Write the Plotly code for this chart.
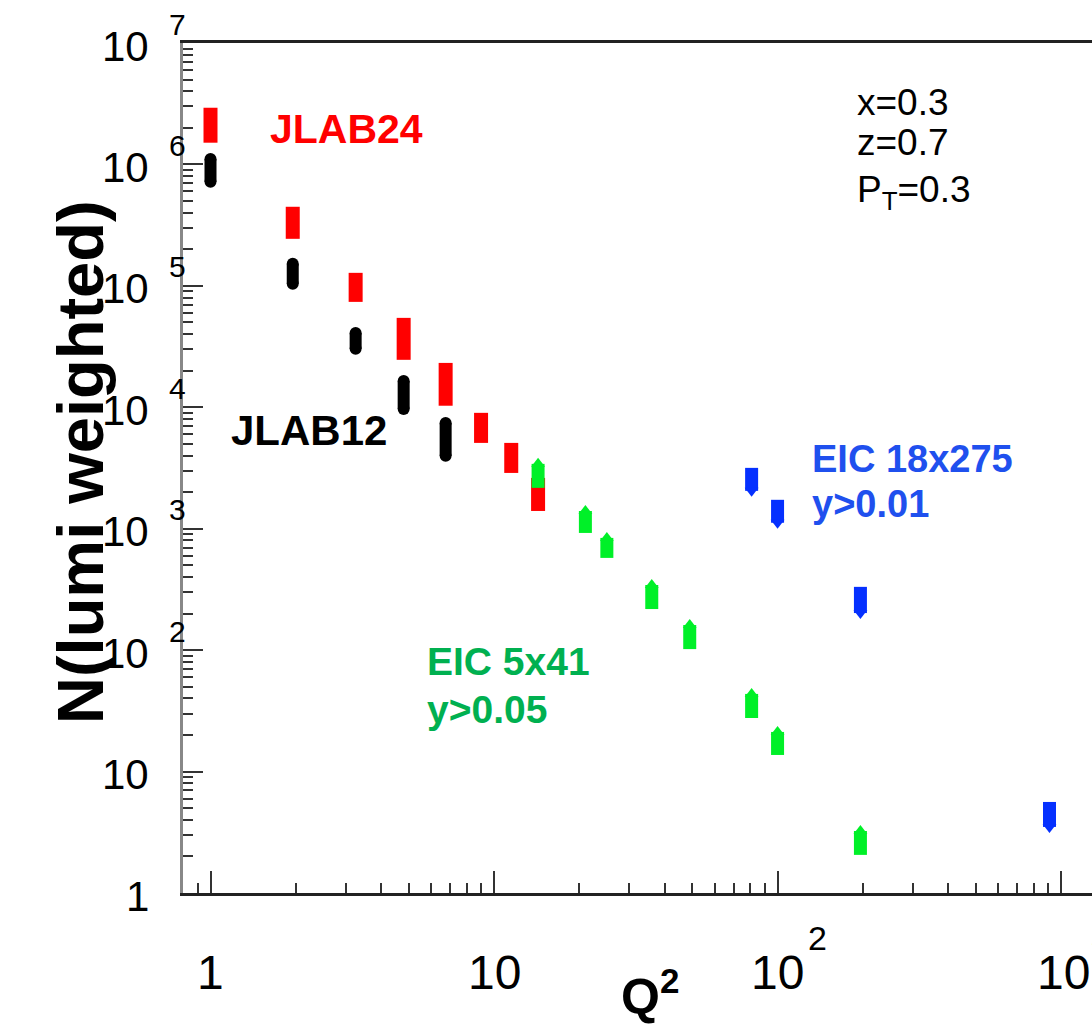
import math
import plotly.graph_objects as go

# ---------------- data ----------------
q2_jlab24 = [1.0, 1.95, 3.25, 4.8, 6.75, 9.0, 11.5, 14.3]
n_hi_jlab24 = [2.93e6, 4.48e5, 1.28e5, 5.45e4, 2.32e4, 9.0e3, 5.09e3, 2.62e3]
n_lo_jlab24 = [1.51e6, 2.44e5, 7.38e4, 2.46e4, 1.03e4, 5.09e3, 2.88e3, 1.40e3]

q2_jlab12 = [1.0, 1.95, 3.25, 4.8, 6.75]
n_hi_jlab12 = [1.11e6, 1.52e5, 4.10e4, 1.65e4, 7.44e3]
n_lo_jlab12 = [7.19e5, 1.04e5, 3.03e4, 9.70e3, 3.98e3]

q2_eic5x41 = [14.3, 21.0, 25.0, 36.0, 49.0, 81.0, 100.0, 196.0]
n_hi_eic5x41 = [3.42e3, 1.40e3, 840, 344, 161, 43.6, 21.2, 3.24]
n_lo_eic5x41 = [2.17e3, 923, 575, 218, 102, 27.6, 13.7, 2.06]

q2_eic18x275 = [81.0, 100.0, 196.0, 910.0]
n_hi_eic18x275 = [3.17e3, 1.73e3, 332, 5.62]
n_lo_eic18x275 = [2.05e3, 1.12e3, 202, 3.50]

# tick labels: value, mantissa text, exponent text (ROOT style "10" + raised exponent)
x_tick_vals = [1, 10, 100, 1000]
x_tick_base = ["1", "10", "10", "10"]
x_tick_exp = ["", "", "2", "3"]

y_tick_vals = [1, 10, 1e2, 1e3, 1e4, 1e5, 1e6, 1e7]
y_tick_base = ["1", "10", "10", "10", "10", "10", "10", "10"]
y_tick_exp = ["", "", "2", "3", "4", "5", "6", "7"]

FONT = "Liberation Sans, Arial, Helvetica, sans-serif"

RED = "#ff0000"
BLACK = "#000000"
GREEN_M = "#00f028"
BLUE_M = "#0530ff"
GREEN_T = "#00b050"
BLUE_T = "#1f50ee"


def span(hi, lo):
    return [h - l for h, l in zip(hi, lo)]


fig = go.Figure()

# JLAB24: stacked squares -> filled rectangle
fig.add_trace(go.Scatter(
    x=q2_jlab24, y=n_hi_jlab24, mode="markers", name="JLAB24",
    marker=dict(size=1, color="rgba(0,0,0,0)"),
    error_y=dict(type="data", symmetric=False, array=[0] * len(q2_jlab24),
                 arrayminus=span(n_hi_jlab24, n_lo_jlab24),
                 thickness=14, width=0, color=RED),
))

# JLAB12: stacked circles -> capsule
fig.add_trace(go.Scatter(
    x=q2_jlab12, y=n_hi_jlab12, mode="markers", name="JLAB12",
    marker=dict(size=12, color=BLACK, symbol="circle", line=dict(width=0)),
    error_y=dict(type="data", symmetric=False, array=[0] * len(q2_jlab12),
                 arrayminus=span(n_hi_jlab12, n_lo_jlab12),
                 thickness=12, width=0, color=BLACK),
))
fig.add_trace(go.Scatter(
    x=q2_jlab12, y=n_lo_jlab12, mode="markers", showlegend=False,
    marker=dict(size=12, color=BLACK, symbol="circle", line=dict(width=0)),
))

# EIC 5x41: stacked up-triangles
fig.add_trace(go.Scatter(
    x=q2_eic5x41, y=n_hi_eic5x41, mode="markers", name="EIC 5x41",
    marker=dict(size=12, color=GREEN_M, symbol="triangle-up", line=dict(width=0)),
    error_y=dict(type="data", symmetric=False, array=[0] * len(q2_eic5x41),
                 arrayminus=span(n_hi_eic5x41, n_lo_eic5x41),
                 thickness=13, width=0, color=GREEN_M),
))

# EIC 18x275: stacked down-triangles
fig.add_trace(go.Scatter(
    x=q2_eic18x275, y=n_lo_eic18x275, mode="markers", name="EIC 18x275",
    marker=dict(size=12, color=BLUE_M, symbol="triangle-down", line=dict(width=0)),
    error_y=dict(type="data", symmetric=False,
                 array=span(n_hi_eic18x275, n_lo_eic18x275),
                 arrayminus=[0] * len(q2_eic18x275),
                 thickness=13, width=0, color=BLUE_M),
))

L, T, R, B = 183, 43, 0, 137
W, H = 1092, 1030
pw, ph = W - L - R, H - T - B


def px(xp):
    return (xp - L) / pw


def py(yp):
    return (H - B - yp) / ph


annots = [
    ("<b>JLAB24</b>", 268, 129, RED, 41),
    ("<b>JLAB12</b>", 229, 430, BLACK, 42),
    ("<b>EIC 18x275</b>", 810, 459, BLUE_T, 38),
    ("<b>y&gt;0.01</b>", 810, 504, BLUE_T, 38),
    ("<b>EIC 5x41</b>", 425, 661, GREEN_T, 39),
    ("<b>y&gt;0.05</b>", 425, 709, GREEN_T, 39),
    ("x=0.3", 855, 103, BLACK, 37),
    ("z=0.7", 855, 142, BLACK, 37),
    ("P<sub>T</sub>=0.3", 855, 192, BLACK, 37),
]
for text, xp, yp, col, sz in annots:
    fig.add_annotation(text=text, x=px(xp), y=py(yp), xref="paper", yref="paper",
                       xanchor="left", yanchor="middle", showarrow=False,
                       font=dict(family=FONT, size=sz, color=col))

# x tick labels
for v, base, ex in zip(x_tick_vals, x_tick_base, x_tick_exp):
    fig.add_annotation(text=base, x=math.log10(v), xref="x", y=py(972), yref="paper",
                       xanchor="center", yanchor="middle", xshift=2 if ex == "3" else 0,
                       showarrow=False, font=dict(family=FONT, size=48, color=BLACK))
    if ex:
        fig.add_annotation(text=ex, x=math.log10(v), xref="x", y=py(938), yref="paper",
                           xanchor="left", yanchor="middle", xshift=28,
                           showarrow=False, font=dict(family=FONT, size=34, color=BLACK))

# y tick labels
for v, base, ex in zip(y_tick_vals, y_tick_base, y_tick_exp):
    fig.add_annotation(text=base, x=px(151), xref="paper", y=math.log10(v), yref="y",
                       xanchor="right", yanchor="middle", yshift=-3,
                       showarrow=False, font=dict(family=FONT, size=42, color=BLACK))
    if ex:
        fig.add_annotation(text=ex, x=px(167), xref="paper", y=math.log10(v), yref="y",
                           xanchor="left", yanchor="middle", yshift=19,
                           showarrow=False, font=dict(family=FONT, size=30, color=BLACK))

fig.add_annotation(text="<b>N(lumi weighted)</b>", x=px(80), y=py(462), xref="paper", yref="paper",
                   xanchor="center", yanchor="middle", textangle=-90, showarrow=False,
                   font=dict(family=FONT, size=65, color=BLACK))
fig.add_annotation(text="<b>Q<sup>2</sup></b>", x=px(650), y=py(993), xref="paper", yref="paper",
                   xanchor="center", yanchor="middle", showarrow=False,
                   font=dict(family=FONT, size=50, color=BLACK))

fig.update_layout(
    width=W, height=H,
    margin=dict(l=L, r=R, t=T, b=B, pad=0),
    paper_bgcolor="white", plot_bgcolor="white",
    showlegend=False,
    font=dict(family=FONT, color=BLACK),
)

fig.update_xaxes(
    type="log", range=[-0.097, 3.109], dtick=1,
    showgrid=False, zeroline=False, showticklabels=False,
    showline=True, linecolor="#222222", linewidth=3, mirror=True,
    ticks="inside", ticklen=22, tickwidth=2, tickcolor="#333333",
    minor=dict(ticks="inside", ticklen=10, tickwidth=2, tickcolor="#333333", dtick="D1", showgrid=False),
)
fig.update_yaxes(
    type="log", range=[0, 7], dtick=1,
    showgrid=False, zeroline=False, showticklabels=False,
    showline=True, linecolor="#888888", linewidth=3, mirror=False,
    ticks="inside", ticklen=20, tickwidth=2, tickcolor="#333333",
    minor=dict(ticks="inside", ticklen=10, tickwidth=2, tickcolor="#333333", dtick="D1", showgrid=False),
)

fig.write_html("out.html", config={"displayModeBar": False},
               post_script="document.body.style.margin='0';document.body.style.overflow='hidden';")
